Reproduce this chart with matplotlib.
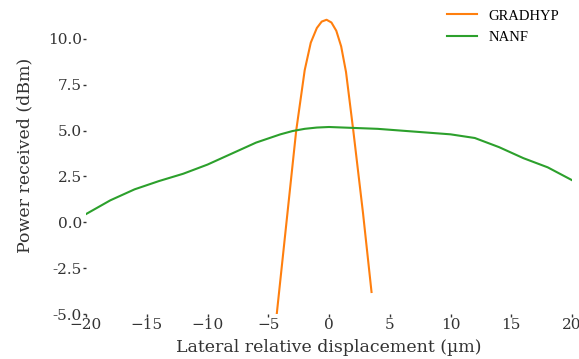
import matplotlib
matplotlib.use('Agg')
import matplotlib.pyplot as plt

# Data
grad_x = [-4.3, -3.5, -2.7, -2.0, -1.5, -1.0, -0.6, -0.2, 0.2, 0.6, 1.0, 1.4, 2.0, 2.8, 3.5]
grad_y = [-5.0, 0.0, 5.0, 8.3, 9.8, 10.6, 10.95, 11.05, 10.9, 10.45, 9.6, 8.2, 5.0, 0.5, -3.8]

nanf_x = [-20, -18, -16, -14, -12, -10, -8, -6, -4, -3, -2, -1, 0, 2, 4, 6, 8, 10, 12, 14, 16, 18, 20]
nanf_y = [0.45, 1.2, 1.8, 2.25, 2.65, 3.15, 3.75, 4.35, 4.8, 4.98, 5.1, 5.17, 5.2, 5.15, 5.1, 5.0,
          4.9, 4.8, 4.6, 4.1, 3.5, 3.0, 2.3]

xticks = [-20, -15, -10, -5, 0, 5, 10, 15, 20]
yticks = [-5.0, -2.5, 0.0, 2.5, 5.0, 7.5, 10.0]

plt.rcParams['font.family'] = ['DejaVu Serif']

fig = plt.figure(figsize=(5.79, 3.59), dpi=100)
ax = fig.add_axes([86 / 579, 1 - 314 / 359, (572 - 86) / 579, (314 - 17) / 359])

ax.plot(grad_x, grad_y, color='#ff7f0e', lw=1.5, label='GRADHYP')
ax.plot(nanf_x, nanf_y, color='#2ca02c', lw=1.5, label='NANF')

ax.set_xlim(-20, 20)
ax.set_ylim(-5, 11.2)
ax.set_xticks(xticks)
ax.set_yticks(yticks)
ax.set_yticklabels([f'{v:.1f}' for v in yticks])
for s in ax.spines.values():
    s.set_visible(False)
ax.tick_params(length=2, width=1, labelsize=11, pad=1, color='#333333', labelcolor='#333333')

ax.set_xlabel('Lateral relative displacement (µm)', fontsize=12.5, labelpad=5, color='#333333')
ax.set_ylabel('Power received (dBm)', fontsize=12.5, color='#333333')
ax.yaxis.set_label_coords(-0.108, 0.535)

ax.legend(loc='upper right', bbox_to_anchor=(1.0, 1.07), frameon=False,
          prop={'family': 'Liberation Serif', 'size': 10.5},
          handlelength=2.05, handletextpad=0.75, labelspacing=0.55)

fig.savefig('out.png', dpi=100)
